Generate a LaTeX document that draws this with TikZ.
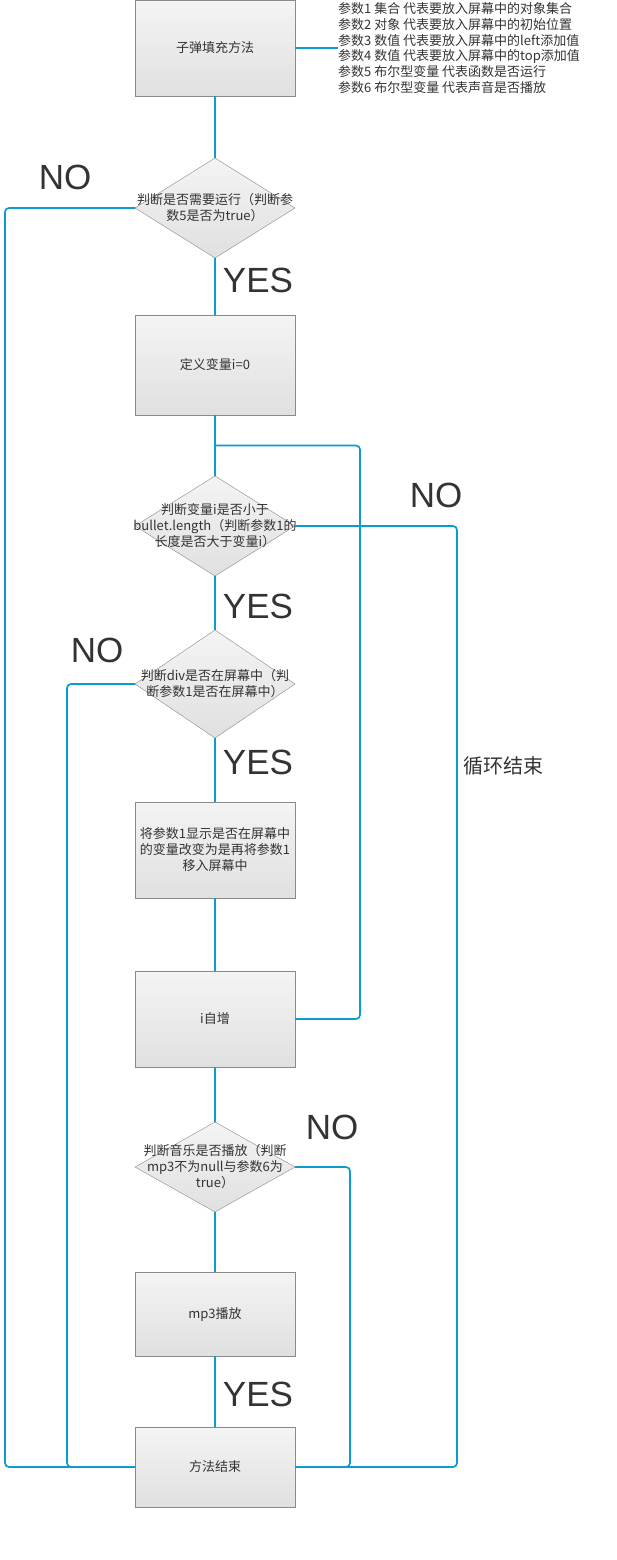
\documentclass[tikz,border=0pt]{standalone}
\usepackage{fontspec}
\setmainfont{Noto Sans CJK SC}
\newfontfamily\yesnofont{Liberation Sans}
\usetikzlibrary{shapes.geometric,positioning,calc}
\definecolor{flowblue}{HTML}{0E9BD2}
\definecolor{boxgray}{HTML}{8A8A8A}
\definecolor{txtgray}{HTML}{333333}
\definecolor{shadetop}{HTML}{F4F4F4}
\definecolor{shadebot}{HTML}{E0E0E0}

\begin{document}
\begin{tikzpicture}[x=1pt,y=-1pt,
box/.style={draw=boxgray,top color=shadetop,bottom color=shadebot,minimum width=160pt,inner sep=2pt,outer sep=0pt,align=center,text=txtgray,font=\fontsize{13}{16}\selectfont},
dec/.style={diamond,draw=boxgray,top color=shadetop,bottom color=shadebot,minimum width=160pt,inner sep=0pt,outer sep=0pt},
dectext/.style={align=center,text=txtgray,font=\fontsize{13}{16}\selectfont,inner sep=0pt},
link/.style={draw=flowblue,line width=1.7pt,rounded corners=4pt},
yn/.style={text=txtgray,font=\yesnofont\fontsize{35}{40}\selectfont,inner sep=0pt}]
\useasboundingbox[fill=white](0,0)rectangle(616,1560);
\node(S)[box,minimum height=96pt] at (215,48){子弹填充方法};
\node(P)[right=43pt of S,align=left,inner sep=0pt,text=txtgray,font=\fontsize{13}{15.8}\selectfont]{参数1 集合 代表要放入屏幕中的对象集合\\参数2 对象 代表要放入屏幕中的初始位置\\参数3 数值 代表要放入屏幕中的left添加值\\参数4 数值 代表要放入屏幕中的top添加值\\参数5 布尔型变量 代表函数是否运行\\参数6 布尔型变量 代表声音是否播放};
\node(D1)[dec,minimum height=100pt,below=62pt of S,label={[dectext]center:{判断是否需要运行（判断参\\数5是否为true）}}]{};
\node(B2)[box,minimum height=100pt,below=57pt of D1]{定义变量i=0};
\node(D2)[dec,minimum height=100pt,below=61pt of B2,label={[dectext]center:{判断变量i是否小于\\bullet.length（判断参数1的\\长度是否大于变量i）}}]{};
\node(D3)[dec,minimum height=108pt,below=54pt of D2,label={[dectext]center:{判断div是否在屏幕中（判\\断参数1是否在屏幕中）}}]{};
\node(B3)[box,minimum height=96pt,below=64pt of D3]{将参数1显示是否在屏幕中\\的变量改变为是再将参数1\\移入屏幕中};
\node(Inc)[box,minimum height=96pt,below=73pt of B3]{i自增};
\node(D4)[dec,minimum height=90pt,below=55pt of Inc,label={[dectext]center:{判断音乐是否播放（判断\\mp3不为null与参数6为\\true）}}]{};
\node(Mp3)[box,minimum height=84pt,below=60pt of D4]{mp3播放};
\node(E)[box,minimum height=80pt,below=71pt of Mp3]{方法结束};
% yes / no labels
\node(N1)[yn] at (65,177){NO};
\node(Y1)[yn] at (258,280){YES};
\node(N2)[yn] at (436,495){NO};
\node(Y2)[yn] at (258,606){YES};
\node(N3)[yn] at (97,650){NO};
\node(Y3)[yn] at (258,762){YES};
\node(N4)[yn] at (332,1127){NO};
\node(Y4)[yn] at (258,1394){YES};
\node(L)[text=txtgray,font=\fontsize{20}{24}\selectfont,inner sep=0pt] at (503,766){循环结束};
% main column
\draw[link](S)--(D1);
\draw[link](D1)--(B2);
\draw[link](B2)--(D2);
\draw[link](D2)--(D3);
\draw[link](D3)--(B3);
\draw[link](B3)--(Inc);
\draw[link](Inc)--(D4);
\draw[link](D4)--(Mp3);
\draw[link](Mp3)--(E);
\draw[link](S.east)--(P.west);
% loops and exits
\coordinate(J) at ($(B2.south)!.5!(D2.north)$);
\draw[link](Inc.east)--++(65,0)|-(J);
\draw[link](D1.west)--++(-130,0)|-(E.west);
\draw[link](D3.west)--++(-68,0)|-(E.west);
\draw[link](D2.east)--++(162,0)|-(E.east);
\draw[link](D4.east)--++(55,0)|-(E.east);
\end{tikzpicture}
\end{document}
